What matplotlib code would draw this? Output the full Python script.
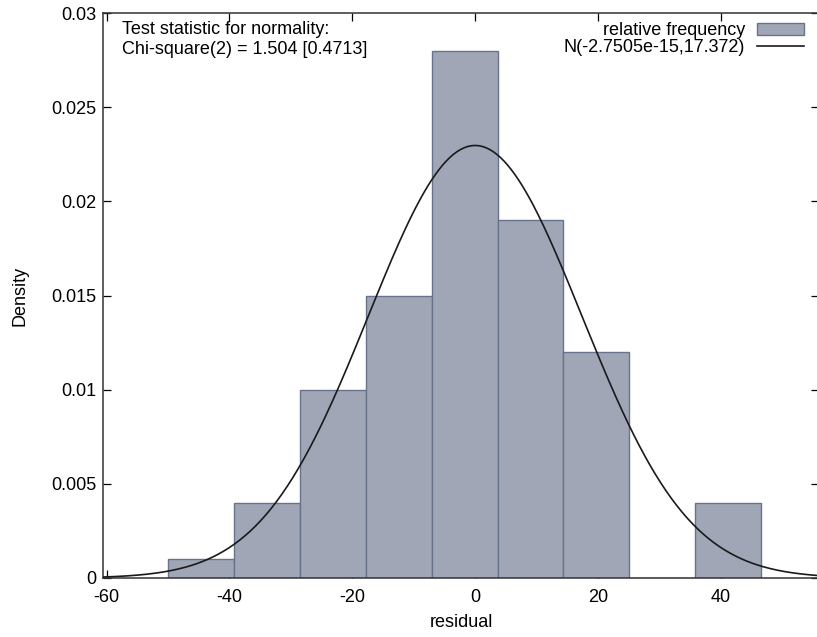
import numpy as np
import matplotlib.pyplot as plt

plt.rcParams['font.family'] = ['Liberation Sans', 'DejaVu Sans']
plt.rcParams['axes.unicode_minus'] = False

# histogram of residuals (density), bin edges
bin_edges = [-49.95, -39.23, -28.50, -17.78, -7.06, 3.66, 14.38, 25.10, 35.82, 46.54]
density = [0.001, 0.004, 0.010, 0.015, 0.028, 0.019, 0.012, 0.0, 0.004]

# fitted normal
mu = -2.7505e-15
sigma = 17.372

x_ticks = [-60, -40, -20, 0, 20, 40]
y_ticks = [0, 0.005, 0.01, 0.015, 0.02, 0.025, 0.03]
y_labels = ['0', '0.005', '0.01', '0.015', '0.02', '0.025', '0.03']

fig = plt.figure(figsize=(8.17, 6.37), dpi=100)
ax = fig.add_axes([103 / 817, 1 - 578 / 637, 716 / 817, 565 / 637])

widths = np.diff(bin_edges)
bars = ax.bar(bin_edges[:-1], density, width=widths, align='edge',
              color='#a0a6b6', edgecolor='#67738c', linewidth=1.0,
              label='relative frequency', zorder=2)

xs = np.linspace(-61, 56, 400)
pdf = np.exp(-0.5 * ((xs - mu) / sigma) ** 2) / (sigma * np.sqrt(2 * np.pi))
line, = ax.plot(xs, pdf, color='#1a1a1a', linewidth=1.2,
                label='N(-2.7505e-15,17.372)', zorder=3)

ax.set_xlim(-60.6, 56.0)
ax.set_ylim(0, 0.03)
ax.set_xticks(x_ticks)
ax.set_yticks(y_ticks)
ax.set_yticklabels(y_labels)
ax.tick_params(direction='in', top=True, right=True, length=6,
               labelsize=13, width=0.9)
ax.tick_params(axis='x', pad=8)
ax.tick_params(axis='y', pad=5)
for s in ax.spines.values():
    s.set_linewidth(1.1)
    s.set_color('#333333')
ax.spines['right'].set_visible(False)

ax.set_xlabel('residual', fontsize=13, labelpad=6)
ax.set_ylabel('Density', fontsize=13, labelpad=16)

ax.text(0.026, 0.986, 'Test statistic for normality:\nChi-square(2) = 1.504 [0.4713]',
        transform=ax.transAxes, ha='left', va='top', fontsize=13,
        linespacing=1.2)

leg = ax.legend([bars, line], ['relative frequency', 'N(-2.7505e-15,17.372)'],
                loc='upper right', frameon=False, markerfirst=False,
                fontsize=13, handlelength=2.6, handleheight=0.7,
                borderaxespad=0.25, bbox_to_anchor=(0.996, 1.004),
                labelspacing=0.0, handletextpad=0.7)
for t in leg.get_texts():
    t.set_ha('right')

fig.savefig('out.png', dpi=100)
